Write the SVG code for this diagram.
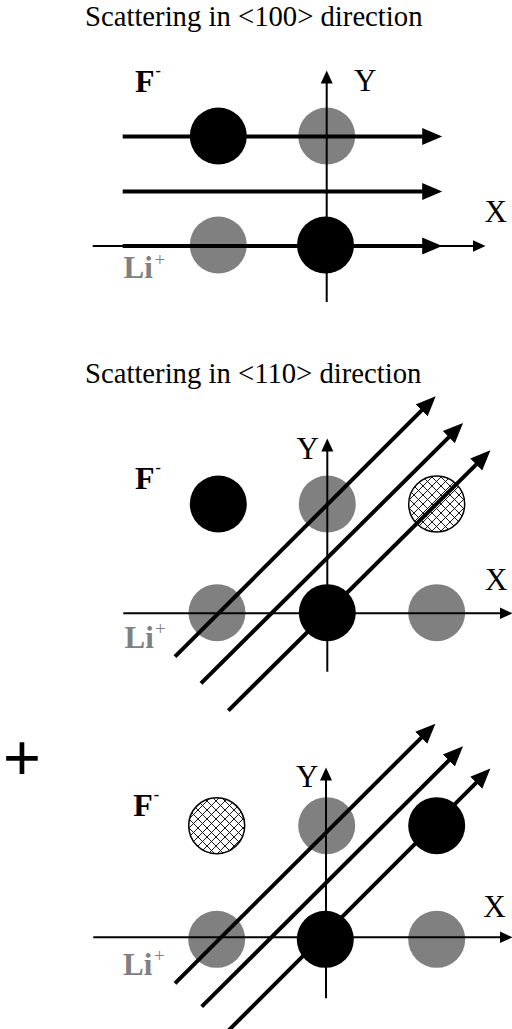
<svg xmlns="http://www.w3.org/2000/svg" width="512" height="1029" viewBox="0 0 512 1029">
<style>
.title{font-family:"Liberation Serif",serif;font-size:28.7px;fill:#000}
.ax{font-family:"Liberation Serif",serif;font-size:31px;fill:#000}
.f{font-family:"Liberation Serif",serif;font-size:32px;font-weight:bold;fill:#000}
.fs{font-family:"Liberation Serif",serif;font-size:16px;font-weight:bold;fill:#000}
.li{font-family:"Liberation Serif",serif;font-size:31px;font-weight:bold;fill:#808080}
.lis{font-family:"Liberation Serif",serif;font-size:19px;fill:#808080}
.black{fill:#000}
.gray{fill:#808080}
.hatch{fill:url(#xh);stroke:#000;stroke-width:1.5}
.axis{stroke:#000;stroke-width:2;fill:none;marker-end:url(#ah)}
.beam{stroke:#000;stroke-width:4;fill:none;marker-end:url(#bh)}
</style>
<defs>
<marker id="bh" viewBox="0 -10 22 20" markerWidth="22" markerHeight="20" refX="0.5" refY="0" orient="auto" markerUnits="userSpaceOnUse">
<path d="M0,-8.5 L20,0 L0,8.5 z" fill="#000"/>
</marker>
<marker id="ah" viewBox="0 -7 14 14" markerWidth="14" markerHeight="14" refX="0.5" refY="0" orient="auto" markerUnits="userSpaceOnUse">
<path d="M0,-6 L13,0 L0,6 z" fill="#000"/>
</marker>
<pattern id="xh" patternUnits="userSpaceOnUse" width="9" height="9">
<rect width="9" height="9" fill="#fff"/>
<path d="M0,0 L9,9 M9,0 L0,9" stroke="#000" stroke-width="0.9"/>
</pattern>
</defs>
<rect width="512" height="1029" fill="#fff"/>

<g id="panel1">
<text id="title1" class="title" x="85" y="26">Scattering in &lt;100&gt; direction</text>
<g id="p1-nodes">
<circle id="p1-f1" class="black" cx="218.3" cy="136" r="28.5"/>
<circle id="p1-li1" class="gray" cx="326.7" cy="136" r="28.5"/>
<circle id="p1-li2" class="gray" cx="218.3" cy="245" r="28.5"/>
<circle id="p1-f2" class="black" cx="325.5" cy="245" r="28.5"/>
</g>
<g id="p1-labels">
<text class="f" x="135" y="91.7">F</text><text class="fs" x="155.5" y="75.5">-</text>
<text class="li" x="123.5" y="278.3">Li</text><text class="lis" x="154.5" y="265.5">+</text>
<text class="ax" x="354" y="90.7">Y</text>
<text class="ax" x="484.5" y="221.7">X</text>
</g>
<g id="p1-connectors">
<line class="axis" x1="326.7" y1="302" x2="326.7" y2="83"/>
<line class="axis" x1="92.7" y1="246" x2="473" y2="246"/>
<line class="beam" x1="122.7" y1="136.5" x2="422.7" y2="136.5"/>
<line class="beam" x1="122.7" y1="191.5" x2="422.7" y2="191.5"/>
<line class="beam" x1="122.7" y1="246" x2="422.7" y2="246"/>
</g>
</g>

<g id="panel2">
<text id="title2" class="title" x="85" y="383.3">Scattering in &lt;110&gt; direction</text>
<g id="p2-nodes">
<circle id="p2-f1" class="black" cx="218.3" cy="504" r="28.5"/>
<circle id="p2-li1" class="gray" cx="327.3" cy="504" r="28.5"/>
<circle id="p2-h" class="hatch" cx="436.7" cy="504" r="28"/>
<circle id="p2-li2" class="gray" cx="217" cy="612.7" r="28.5"/>
<circle id="p2-f2" class="black" cx="327.3" cy="612.7" r="28.5"/>
<circle id="p2-li3" class="gray" cx="436.7" cy="612.7" r="28.5"/>
</g>
<g id="p2-labels">
<text class="f" x="135" y="489.3">F</text><text class="fs" x="155.5" y="473.1">-</text>
<text class="li" x="124.5" y="647.5">Li</text><text class="lis" x="155" y="634.7">+</text>
<text class="ax" x="296.5" y="459">Y</text>
<text class="ax" x="485" y="590">X</text>
</g>
<g id="p2-connectors">
<line class="axis" x1="327.3" y1="671.7" x2="327.3" y2="451"/>
<line class="axis" x1="123.3" y1="613.3" x2="500" y2="613.3"/>
<line class="beam" x1="175" y1="656.7" x2="421.9" y2="410.1"/>
<line class="beam" x1="201" y1="683.3" x2="449.2" y2="436.8"/>
<line class="beam" x1="228.3" y1="710.7" x2="476.6" y2="464.1"/>
</g>
</g>

<text id="plus" x="22" y="780" font-family="'Liberation Sans',sans-serif" font-size="65" text-anchor="middle" fill="#000">+</text>

<g id="panel3">
<g id="p3-nodes">
<circle id="p3-h" class="hatch" cx="216.7" cy="825.7" r="28"/>
<circle id="p3-li1" class="gray" cx="326.7" cy="825.7" r="28.5"/>
<circle id="p3-f1" class="black" cx="436.7" cy="825.7" r="28.5"/>
<circle id="p3-li2" class="gray" cx="216.7" cy="939.3" r="28.5"/>
<circle id="p3-f2" class="black" cx="325.3" cy="939.3" r="28.5"/>
<circle id="p3-li3" class="gray" cx="436.7" cy="939.3" r="28.5"/>
</g>
<g id="p3-labels">
<text class="f" x="133.3" y="816">F</text><text class="fs" x="153.8" y="799.8">-</text>
<text class="li" x="123" y="975">Li</text><text class="lis" x="154" y="962.2">+</text>
<text class="ax" x="296" y="786.7">Y</text>
<text class="ax" x="483.3" y="917.3">X</text>
</g>
<g id="p3-connectors">
<line class="axis" x1="326" y1="998.3" x2="326" y2="780"/>
<line class="axis" x1="93.3" y1="937.3" x2="500" y2="937.3"/>
<line class="beam" x1="175" y1="983.3" x2="421.6" y2="737.4"/>
<line class="beam" x1="201.7" y1="1006.7" x2="449.2" y2="760.1"/>
<line class="beam" x1="225" y1="1034" x2="476.6" y2="782.4"/>
</g>
</g>
</svg>
